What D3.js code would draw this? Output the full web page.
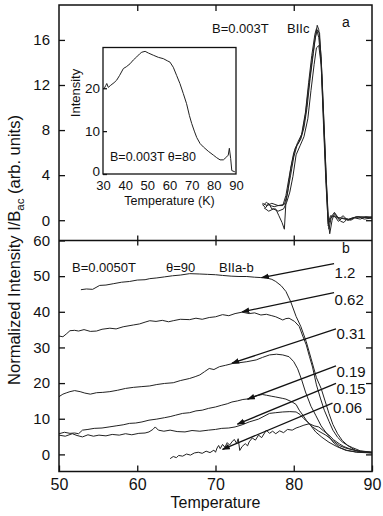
<!DOCTYPE html>
<html>
<head>
<meta charset="utf-8">
<script src="https://cdn.jsdelivr.net/npm/d3@7"></script>
<style>
  body { margin: 0; background: #fff; }
  svg { display: block; font-family: "Liberation Sans", Arial, sans-serif; }
  .frame { fill: none; stroke: #111; stroke-width: 1.5; }
  .curve { fill: none; stroke: #222; stroke-width: 1; }
  .axis path { display: none; }
  .axis line { stroke: #111; stroke-width: 1.3; }
  .axis text { fill: #111; }
</style>
</head>
<body>
<svg id="chart" width="383" height="516"></svg>
<script>
// ---- data (temperature K, intensity) ----
const topTicksY = [0, 4, 8, 12, 16];
const botTicksY = [0, 10, 20, 30, 40, 50, 60];
const ticksX = [50, 60, 70, 80, 90];
const insetTicksX = [30, 40, 50, 60, 70, 80, 90];
const insetTicksY = [0, 10, 20];

// top panel, B=0.003T, B||c: four overlapping runs
const topRunA = [[76.0,1.4],[76.4,1.1],[76.8,1.5],[77.2,1.0],[77.7,1.0],[78.1,0.4],[78.5,-0.2],[78.8,-0.8],[79.0,1.6],[79.3,2.8],[79.6,4.0],[80.0,5.6],[80.4,6.6],[80.9,7.2],[81.3,8.2],[81.7,10.0],[82.1,12.6],[82.5,14.8],[82.8,16.4],[83.0,17.3],[83.2,16.9],[83.5,14.5],[83.8,9.5],[84.1,4.5],[84.4,0.0],[84.6,-1.2],[84.9,0.0],[85.2,0.6],[85.6,0.2],[86.0,-0.1],[86.4,-0.2],[86.8,0.1],[87.3,0.0],[87.8,0.2],[88.5,0.1],[89.2,0.3],[90.0,0.2]];
const topRunB = [[76.1,1.3],[76.5,1.6],[77.0,1.3],[77.5,1.2],[78.0,1.3],[78.6,1.3],[79.0,2.2],[79.4,3.8],[79.8,5.2],[80.2,6.4],[80.7,7.0],[81.1,7.8],[81.5,9.4],[81.9,11.8],[82.3,14.0],[82.7,16.0],[83.0,16.9],[83.3,16.6],[83.6,13.0],[83.9,8.0],[84.2,3.0],[84.5,-0.8],[84.8,0.3],[85.2,0.7],[85.8,0.1],[86.3,0.4],[86.9,0.0],[87.5,0.2],[88.3,0.3],[89.0,0.1],[90.0,0.2]];
const topRunC = [[76.2,1.1],[76.8,0.8],[77.4,1.0],[78.0,0.8],[78.7,1.0],[79.1,1.6],[79.5,2.5],[79.9,3.9],[80.3,5.8],[80.8,6.6],[81.3,7.4],[81.8,9.0],[82.2,11.5],[82.6,13.8],[82.9,15.3],[83.2,15.5],[83.5,13.8],[83.8,9.0],[84.1,4.0],[84.4,-0.5],[84.7,0.2],[85.2,0.4],[85.7,-0.1],[86.2,0.2],[87.0,0.1],[88.0,0.3],[90.0,0.2]];
const topRunD = [[76.0,1.5],[76.6,1.3],[77.2,1.5],[78.0,1.3],[78.8,1.4],[79.2,2.4],[79.6,4.6],[80.0,6.0],[80.5,6.9],[81.0,7.6],[81.5,9.6],[81.9,12.2],[82.3,14.6],[82.7,16.5],[82.9,17.0],[83.2,16.2],[83.5,14.0],[83.8,8.5],[84.1,3.5],[84.4,-0.3],[84.7,0.4],[85.3,0.3],[86.0,0.2],[87.0,0.0],[88.0,0.3],[90.0,0.3]];

// inset, B=0.003T theta=80
const insetRun = [[30.5,19.9],[31.2,20.6],[31.7,21.1],[32.4,20.2],[33.5,20.7],[35.0,21.3],[36.2,21.9],[37.5,23.0],[39.2,24.6],[40.5,25.0],[42.2,25.7],[43.7,26.6],[45.2,27.3],[46.5,28.0],[47.5,28.4],[49.0,28.6],[50.5,28.2],[52.7,27.7],[55.0,27.2],[57.2,26.9],[59.0,26.4],[60.2,26.1],[61.7,24.9],[63.2,23.0],[64.7,21.1],[66.2,18.8],[67.7,16.4],[69.0,13.6],[70.0,11.8],[71.2,10.0],[72.3,8.5],[73.8,7.1],[75.3,6.3],[77.5,5.3],[79.8,4.4],[81.3,3.8],[82.8,3.3],[84.3,3.3],[85.8,4.0],[86.5,4.4],[87.0,6.0],[87.6,3.6],[88.1,0.8],[89.5,0.5]];

// bottom panel, B=0.0050T theta=90, B||a-b, one run per label
const labels = ["1.2", "0.62", "0.31", "0.19", "0.15", "0.06"];
const run12 = [[52.8,46.2],[53.5,46.4],[54.3,46.3],[55.2,47.4],[56.0,47.5],[57.0,47.9],[58.0,48.3],[59.0,48.5],[60.0,48.9],[61.0,49.0],[61.6,49.3],[62.5,49.5],[63.5,49.8],[64.5,50.1],[65.5,50.3],[66.7,50.7],[68.0,50.6],[69.0,50.5],[70.0,50.4],[70.9,50.2],[72.0,50.0],[73.0,49.9],[74.0,49.9],[75.0,49.7],[75.8,49.6],[76.5,49.5],[77.2,49.1],[77.7,48.5],[78.4,47.3],[79.0,45.7],[79.6,42.9],[80.3,38.7],[80.9,35.9],[81.6,31.6],[82.2,27.0],[82.9,21.5],[83.5,18.5],[84.0,15.0],[84.5,11.5],[85.0,8.4],[85.6,5.8],[86.2,3.9],[86.9,2.5],[87.9,1.1],[88.8,0.6],[90.0,0.4]];
const run062 = [[50.0,33.2],[50.5,33.0],[51.0,33.9],[51.4,34.7],[52.0,34.8],[52.5,34.6],[53.2,35.0],[54.0,34.5],[54.8,34.6],[55.5,35.1],[56.5,35.4],[57.3,35.2],[58.2,35.8],[59.5,36.3],[60.3,36.6],[61.0,37.1],[61.6,37.5],[62.4,37.3],[63.2,37.6],[64.0,37.2],[64.6,37.5],[65.5,37.9],[66.7,37.8],[67.5,38.2],[68.3,37.9],[69.2,38.4],[70.0,38.6],[70.9,39.2],[71.7,38.9],[72.5,39.5],[73.4,39.9],[74.3,39.5],[75.0,39.7],[75.8,39.1],[76.5,39.3],[77.2,38.9],[77.7,38.6],[78.6,37.7],[79.0,38.1],[79.4,38.2],[80.1,37.3],[80.7,35.9],[81.1,33.5],[81.6,30.7],[82.0,27.5],[82.4,24.5],[82.9,19.5],[83.4,15.8],[83.9,12.4],[84.5,9.3],[85.0,6.8],[85.6,4.8],[86.2,3.5],[86.9,2.5],[87.5,1.9],[88.5,1.0],[90.0,0.6]];
const run031 = [[50.0,16.2],[50.5,16.9],[51.0,17.3],[51.4,17.6],[52.0,17.9],[52.7,17.6],[53.3,17.2],[54.0,16.9],[54.8,17.3],[55.6,17.4],[56.5,17.6],[57.5,18.0],[58.5,18.5],[59.5,18.8],[60.5,19.0],[61.6,19.2],[62.5,19.6],[63.5,19.9],[64.6,20.1],[65.5,20.7],[66.7,21.3],[67.4,21.8],[68.0,22.3],[68.6,23.2],[69.2,24.1],[69.8,23.8],[70.5,24.6],[71.3,25.0],[72.2,25.5],[73.0,25.7],[74.0,26.0],[75.2,26.5],[76.0,27.2],[76.9,27.9],[77.8,28.1],[78.6,27.9],[79.4,27.4],[80.0,26.0],[80.5,24.0],[81.0,21.0],[81.5,17.5],[82.2,13.5],[82.8,11.0],[83.5,8.0],[84.3,5.6],[85.0,3.5],[85.8,2.0],[86.7,1.2],[88.0,0.6],[90.0,0.4]];
const run019 = [[50.0,5.8],[50.7,6.2],[51.4,5.9],[52.0,6.0],[52.5,5.8],[53.0,6.8],[53.7,7.0],[54.5,7.3],[55.5,7.4],[56.4,7.7],[57.3,8.0],[58.2,8.3],[59.0,8.7],[59.8,8.8],[60.6,9.1],[61.5,9.6],[62.5,9.9],[63.5,10.3],[64.2,10.6],[64.9,11.0],[65.8,11.5],[66.7,11.7],[67.5,12.2],[68.3,12.4],[69.1,12.9],[70.0,13.3],[70.8,13.8],[71.5,14.2],[72.1,14.7],[72.8,15.0],[73.5,15.4],[74.3,15.6],[75.0,16.3],[75.5,16.6],[76.0,16.8],[76.5,16.6],[77.2,16.3],[77.7,16.1],[78.6,15.7],[79.0,15.5],[79.8,14.7],[80.3,14.0],[80.7,12.4],[81.2,10.9],[81.6,9.6],[82.2,8.0],[82.8,6.3],[83.6,4.8],[84.5,3.4],[85.5,2.2],[86.7,1.1],[88.0,0.7],[89.8,0.5]];
const run015 = [[50.0,5.4],[50.8,5.1],[51.7,5.8],[52.3,5.3],[53.0,4.9],[53.7,5.5],[54.4,5.1],[55.1,5.4],[56.0,5.2],[56.8,5.6],[57.7,5.4],[58.5,5.8],[59.3,5.5],[60.2,5.9],[61.0,6.0],[61.5,6.3],[62.0,7.0],[62.3,7.7],[62.7,6.8],[63.4,6.5],[64.2,6.8],[65.1,6.4],[66.1,6.3],[67.0,6.7],[68.0,6.5],[69.1,6.8],[70.0,7.0],[70.8,7.3],[71.7,7.4],[72.5,7.7],[73.4,8.3],[74.3,9.1],[75.5,9.9],[76.9,11.5],[77.7,11.7],[78.6,11.9],[79.5,12.0],[80.3,11.9],[80.8,11.2],[81.3,10.0],[81.8,9.0],[82.4,7.7],[83.2,6.5],[84.1,5.4],[85.0,3.9],[85.8,2.5],[86.6,1.8],[87.5,1.3],[88.5,0.9],[90.0,0.6]];
const run006 = [[64.2,-1.2],[64.6,-0.6],[65.0,-0.9],[65.3,-0.3],[65.8,-0.5],[66.3,0.1],[66.8,-0.2],[67.3,0.4],[67.8,0.6],[68.3,0.3],[68.8,0.9],[69.3,0.5],[69.8,1.2],[70.0,0.6],[70.2,1.8],[70.4,2.5],[70.6,1.6],[70.9,2.8],[71.2,2.0],[71.5,3.3],[71.8,2.6],[72.1,3.5],[72.4,4.2],[72.7,3.1],[72.9,4.4],[73.1,1.1],[73.4,2.2],[73.8,3.0],[74.1,2.4],[74.3,3.5],[74.7,4.6],[75.1,4.0],[75.5,5.4],[75.9,4.7],[76.5,6.8],[76.9,5.9],[77.3,6.5],[77.7,5.8],[78.2,6.6],[78.7,6.1],[79.2,7.0],[79.8,6.8],[80.3,7.4],[80.7,7.7],[81.3,8.2],[82.0,8.6],[82.6,8.0],[83.2,7.7],[83.8,6.6],[84.5,5.4],[85.1,4.1],[85.8,3.0],[86.4,2.2],[87.1,1.6],[88.0,1.0],[89.0,0.7],[90.0,0.6]];

// label arrows: tail [T, I], head [T, I], text baseline I
const arrowTail = [[85.15,53.5],[85.15,45.4],[85.4,35.2],[85.4,24.8],[85.4,19.9],[84.95,14.4]];
const arrowHead = [[75.9,49.6],[73.4,40.0],[72.1,25.6],[74.1,15.5],[72.8,8.5],[70.9,1.4]];
const labelBase = [49.6,42.0,32.4,21.7,16.9,11.7];

// ---- layout ----
const svg = d3.select('#chart');
const plotL = 59, plotR = 372, plotT = 5, plotM = 240.5, plotB = 471.5;
const font = 15;

const x = d3.scaleLinear().domain([50, 90]).range([plotL, plotR]);
const yTop = d3.scaleLinear().domain([-1.8, 19.1]).range([plotM, plotT]);
const yBot = d3.scaleLinear().domain([-4.8, 60]).range([plotB, plotM]);

const ix = d3.scaleLinear().domain([30, 90]).range([103, 236]);
const iy = d3.scaleLinear().domain([0, 29.5]).range([174, 47.5]);

const lineTop = d3.line().x(d => x(d[0])).y(d => yTop(d[1]));
const lineBot = d3.line().x(d => x(d[0])).y(d => yBot(d[1]));
const lineIn = d3.line().x(d => ix(d[0])).y(d => iy(d[1]));

svg.append('defs').append('marker')
  .attr('id', 'head')
  .attr('viewBox', '0 0 10 10')
  .attr('refX', 9).attr('refY', 5)
  .attr('markerWidth', 8).attr('markerHeight', 8)
  .attr('markerUnits', 'userSpaceOnUse')
  .attr('orient', 'auto')
  .append('path')
  .attr('d', 'M0,1.5 L10,5 L0,8.5 Z')
  .attr('fill', '#111');

// top panel curves
[topRunA, topRunB, topRunC, topRunD].forEach(r => {
  svg.append('path').datum(r).attr('class', 'curve').attr('d', lineTop);
});

// bottom panel curves
[run12, run062, run031, run019, run015, run006].forEach(r => {
  svg.append('path').datum(r).attr('class', 'curve').attr('d', lineBot);
});

// arrows and labels
labels.forEach((t, i) => {
  svg.append('line')
    .attr('x1', x(arrowTail[i][0])).attr('y1', yBot(arrowTail[i][1]))
    .attr('x2', x(arrowHead[i][0])).attr('y2', yBot(arrowHead[i][1]))
    .attr('stroke', '#111').attr('stroke-width', 1.3)
    .attr('marker-end', 'url(#head)');
  svg.append('text')
    .attr('x', x(arrowTail[i][0]) + 0.5).attr('y', yBot(labelBase[i]))
    .attr('font-size', 15).attr('fill', '#111')
    .text(t);
});

// axes
svg.append('g').attr('class', 'axis').attr('transform', `translate(${plotL},0)`)
  .call(d3.axisLeft(yTop).tickValues(topTicksY).tickSize(-6).tickPadding(9))
  .selectAll('text').attr('font-size', font);
svg.append('g').attr('class', 'axis').attr('transform', `translate(${plotR},0)`)
  .call(d3.axisRight(yTop).tickValues(topTicksY).tickSize(-6).tickFormat(''));

svg.append('g').attr('class', 'axis').attr('transform', `translate(${plotL},0)`)
  .call(d3.axisLeft(yBot).tickValues(botTicksY).tickSize(-6).tickPadding(9))
  .selectAll('text').attr('font-size', font);
svg.append('g').attr('class', 'axis').attr('transform', `translate(${plotR},0)`)
  .call(d3.axisRight(yBot).tickValues(botTicksY.slice(0, 6)).tickSize(-6).tickFormat(''));

svg.append('g').attr('class', 'axis').attr('transform', `translate(0,${plotB})`)
  .call(d3.axisBottom(x).tickValues(ticksX).tickSize(-6).tickPadding(7))
  .selectAll('text').attr('font-size', 16);
svg.append('g').attr('class', 'axis').attr('transform', `translate(0,${plotT})`)
  .call(d3.axisTop(x).tickValues(ticksX.slice(1, 4)).tickSize(-6).tickFormat(''));
svg.append('g').attr('class', 'axis').attr('transform', `translate(0,${plotM})`)
  .call(d3.axisBottom(x).tickValues(ticksX.slice(1, 4)).tickSize(5).tickFormat(''));
svg.append('g').attr('class', 'axis').attr('transform', `translate(0,${plotM})`)
  .call(d3.axisBottom(x).tickValues(ticksX.slice(1, 4)).tickSize(-5).tickFormat(''));

// frames
svg.append('rect').attr('class', 'frame')
  .attr('x', plotL).attr('y', plotT).attr('width', plotR - plotL).attr('height', plotB - plotT);
svg.append('line').attr('x1', plotL).attr('x2', plotR).attr('y1', plotM).attr('y2', plotM)
  .attr('stroke', '#111').attr('stroke-width', 1.5);

// inset
const inset = svg.append('g');
inset.append('rect').attr('x', ix(30)).attr('y', iy(29.5))
  .attr('width', ix(90) - ix(30)).attr('height', iy(0) - iy(29.5))
  .attr('fill', '#fff').attr('stroke', '#111').attr('stroke-width', 1.3);
inset.append('path').datum(insetRun).attr('class', 'curve').attr('stroke-width', 0.9).attr('d', lineIn);
inset.append('g').attr('class', 'axis').attr('transform', `translate(${ix(30)},0)`)
  .call(d3.axisLeft(iy).tickValues(insetTicksY).tickSize(-4).tickPadding(3))
  .selectAll('text').attr('font-size', 13.5)
  .attr('dy', d => d === 0 ? '0.1em' : '0.32em');
inset.append('g').attr('class', 'axis').attr('transform', `translate(0,${iy(0)})`)
  .call(d3.axisBottom(ix).tickValues(insetTicksX).tickSize(0).tickPadding(7))
  .selectAll('text').attr('font-size', 13);
inset.append('text').attr('x', (ix(30) + ix(90)) / 2).attr('y', 205)
  .attr('text-anchor', 'middle').attr('font-size', 12.5).attr('fill', '#111')
  .text('Temperature (K)');
inset.append('text').attr('transform', 'translate(80,93) rotate(-90)')
  .attr('text-anchor', 'middle').attr('font-size', 13).attr('fill', '#111')
  .text('Intensity');
inset.append('text').attr('x', 110).attr('y', 161)
  .attr('font-size', 12.5).attr('fill', '#111')
  .text('B=0.003T  \u03b8=80');

// panel annotations
const ann = (tx, ty, s, fs) => svg.append('text').attr('x', tx).attr('y', ty)
  .attr('font-size', fs).attr('fill', '#111').text(s);
ann(212, 33, 'B=0.003T', 13);
ann(287, 33, 'BIIc', 13);
ann(342, 27, 'a', 14);
ann(342, 253, 'b', 14);
ann(72, 272, 'B=0.0050T', 13);
ann(166, 272, '\u03b8=90', 13);
ann(219, 272, 'BIIa-b', 13);

// axis titles
svg.append('text').attr('x', (plotL + plotR) / 2).attr('y', 508)
  .attr('text-anchor', 'middle').attr('font-size', 16).attr('fill', '#111')
  .text('Temperature');

const yt = svg.append('text').attr('transform', 'translate(20,250) rotate(-90)')
  .attr('text-anchor', 'middle').attr('font-size', 16.5).attr('fill', '#111');
yt.append('tspan').text('Normalized Intensity I/B');
yt.append('tspan').attr('font-size', 11.5).attr('dy', 4).text('ac');
yt.append('tspan').attr('dy', -4).text(' (arb. units)');
</script>
</body>
</html>
